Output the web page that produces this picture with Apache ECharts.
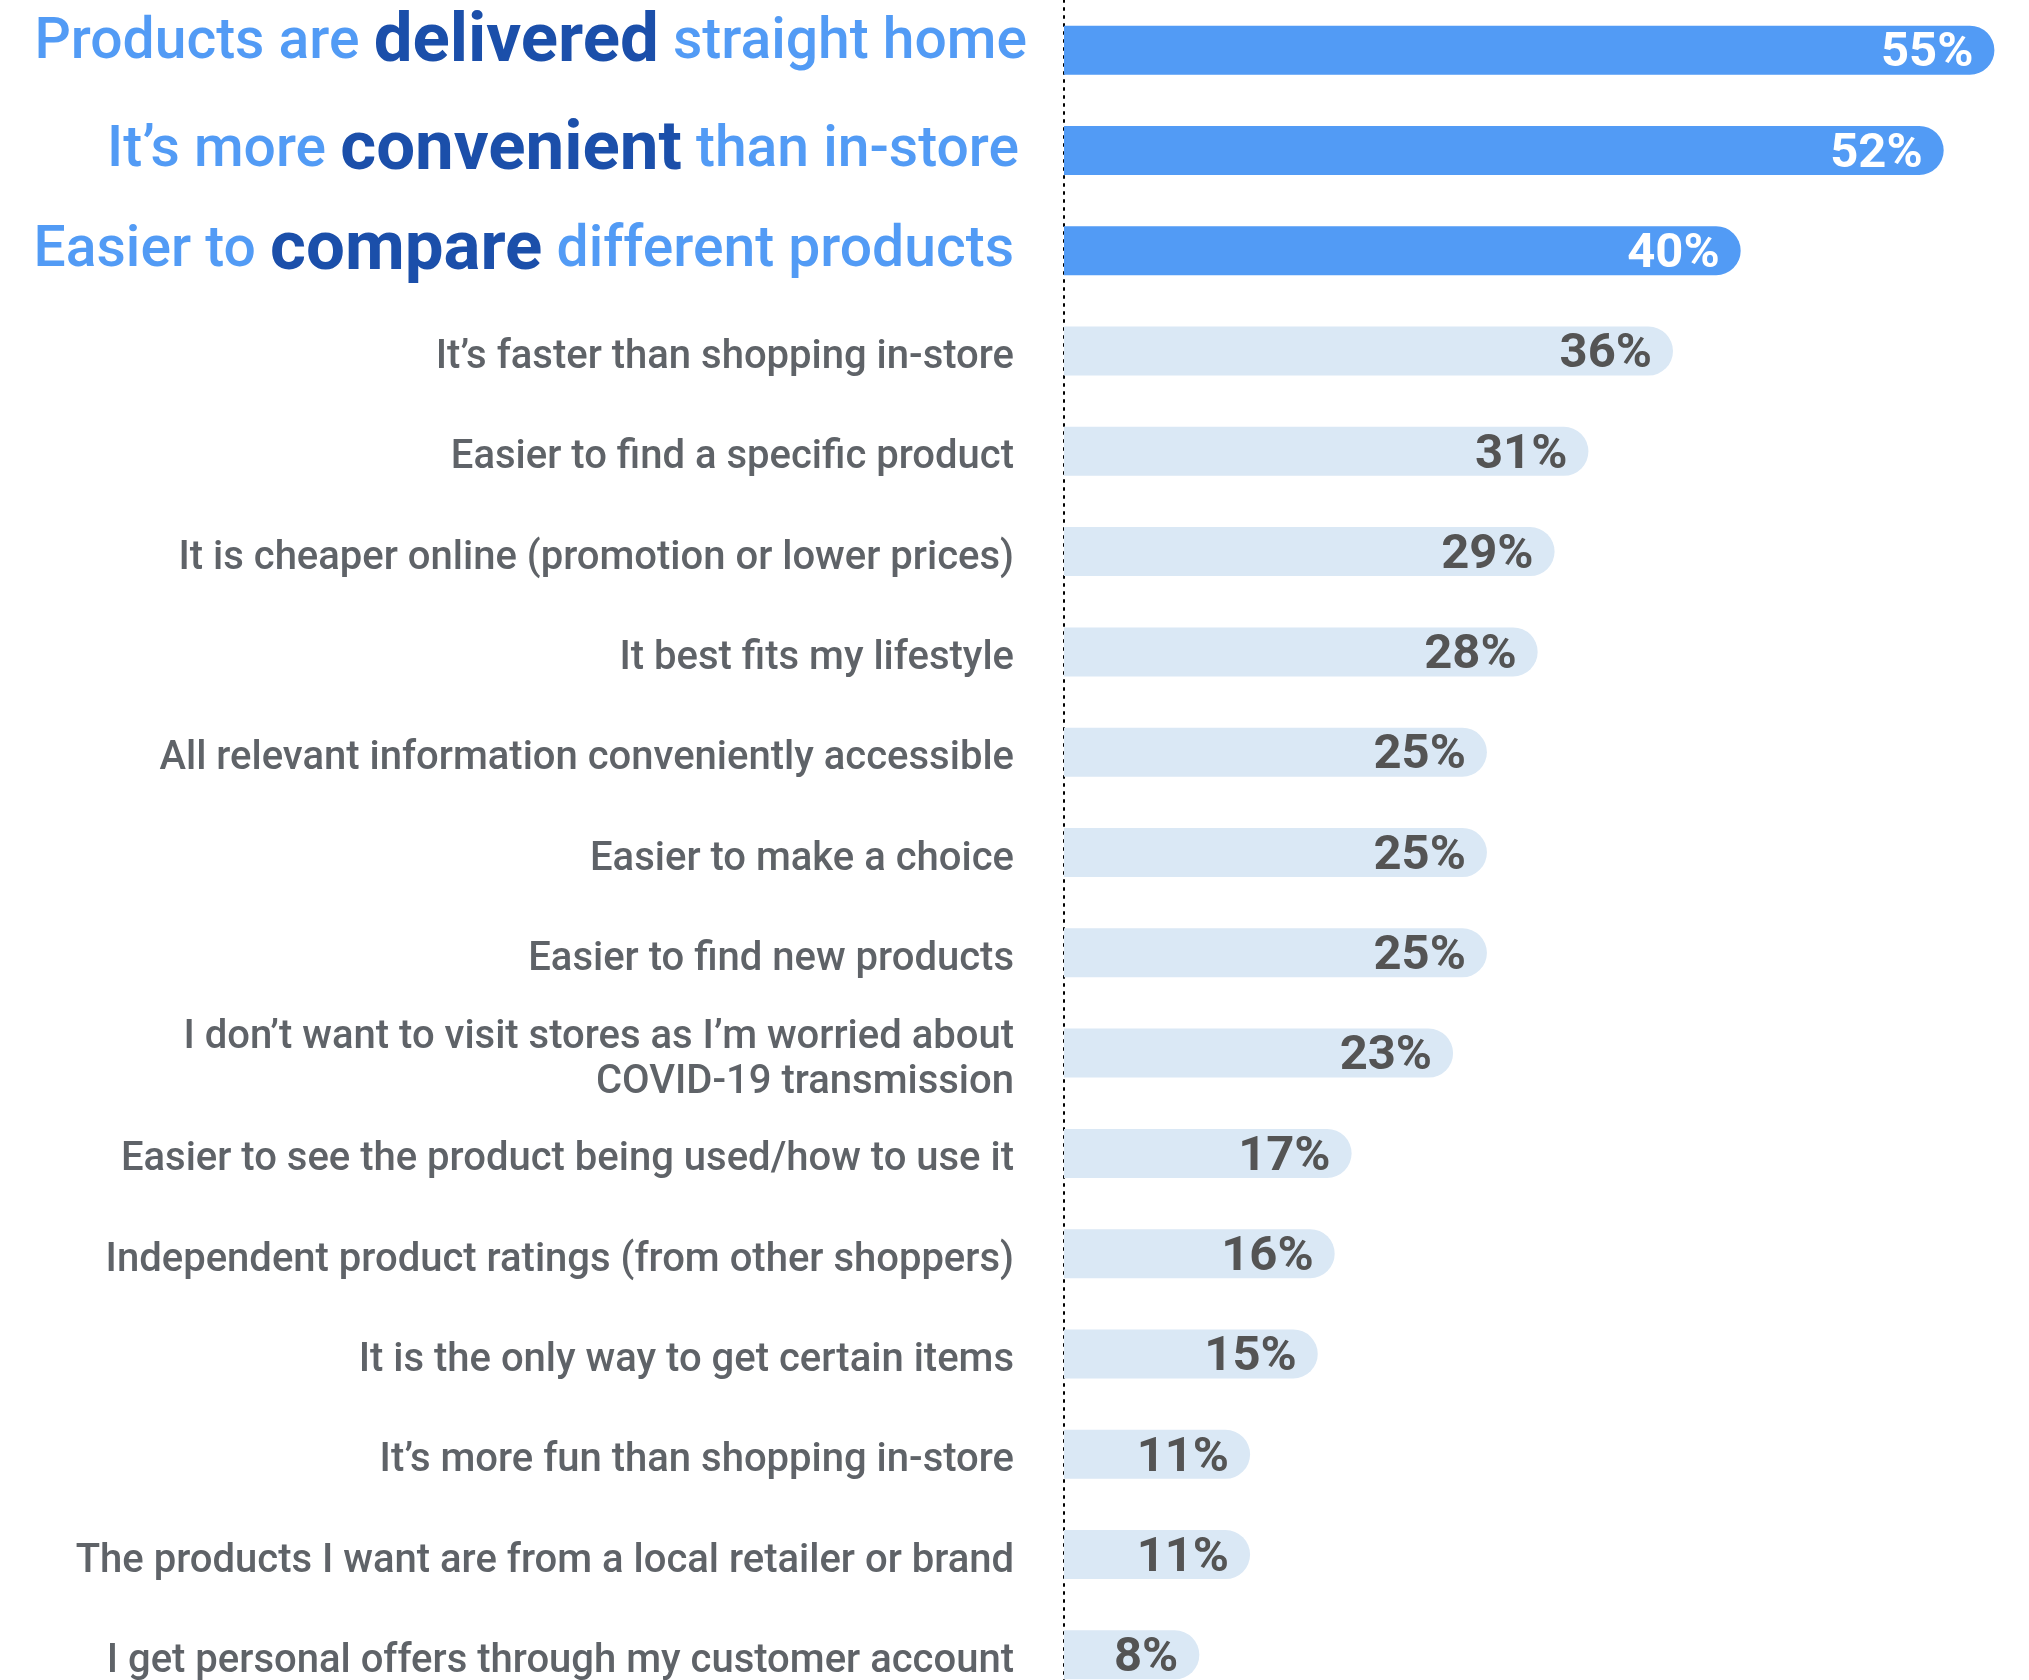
<!DOCTYPE html>
<html>
<head>
<meta charset="utf-8">
<script src="https://cdn.jsdelivr.net/npm/echarts@6/dist/echarts.min.js"></script>
<style>
html,body{margin:0;padding:0;background:#fff;}
#chart{width:2029px;height:1680px;}
</style>
</head>
<body>
<div id="chart"></div>
<script>
const categories = [
  "Products are delivered straight home",
  "It\u2019s more convenient than in-store",
  "Easier to compare different products",
  "It\u2019s faster than shopping in-store",
  "Easier to find a specific product",
  "It is cheaper online (promotion or lower prices)",
  "It best fits my lifestyle",
  "All relevant information conveniently accessible",
  "Easier to make a choice",
  "Easier to find new products",
  "I don\u2019t want to visit stores as I\u2019m worried about\nCOVID-19 transmission",
  "Easier to see the product being used/how to use it",
  "Independent product ratings (from other shoppers)",
  "It is the only way to get certain items",
  "It\u2019s more fun than shopping in-store",
  "The products I want are from a local retailer or brand",
  "I get personal offers through my customer account"
];
const emphasisWords = ["delivered", "convenient", "compare"];
const values = [55, 52, 40, 36, 31, 29, 28, 25, 25, 25, 23, 17, 16, 15, 11, 11, 8];
const highlightCount = 3;

const chart = echarts.init(document.getElementById('chart'));
const FONT = 'Roboto';

const data = values.map((v, i) => ({
  value: v,
  itemStyle: { color: i < highlightCount ? '#529BF5' : '#DAE8F5' },
  label: { color: i < highlightCount ? '#FFFFFF' : '#545454' }
}));

const headPad = [26, 11, 12];
const headShift = [13, 5, 0];
const rich = {};
headPad.forEach((p, i) => {
  rich['l' + i] = { fontFamily: FONT, fontWeight: 500, fontSize: 57, color: '#529BF5', lineHeight: 76, padding: [0, 0, p, 0] };
  rich['r' + i] = { fontFamily: FONT, fontWeight: 500, fontSize: 57, color: '#529BF5', lineHeight: 76, padding: [0, -headShift[i], p, 0] };
  rich['b' + i] = { fontFamily: FONT, fontWeight: 700, fontSize: 69, color: '#1B4FAA', lineHeight: 76, padding: [0, 0, p, 0] };
});

chart.setOption({
  animation: false,
  grid: { left: 1064, top: 0, width: 1015, height: 1705, containLabel: false, outerBoundsMode: 'none' },
  xAxis: { type: 'value', min: 0, max: 60, show: false },
  yAxis: {
    type: 'category',
    data: categories,
    inverse: true,
    axisTick: { show: false },
    axisLine: { show: true, lineStyle: { color: '#000', width: 2, type: [2, 6] } },
    axisLabel: {
      margin: 50,
      fontFamily: FONT,
      fontWeight: 500,
      fontSize: 40,
      color: '#5F6368',
      lineHeight: 45,
      padding: [14, 0, 0, 0],
      align: 'right',
      formatter: function (val, idx) {
        if (idx < highlightCount) {
          const w = emphasisWords[idx];
          const p = val.indexOf(w);
          const pre = val.slice(0, p);
          const post = val.slice(p + w.length);
          return '{l' + idx + '|' + pre + '}{b' + idx + '|' + w + '}{r' + idx + '|' + post + '}';
        }
        return val;
      },
      rich: rich
    }
  },
  series: [{
    type: 'bar',
    data: data,
    barWidth: 49,
    itemStyle: { borderRadius: [0, 25, 25, 0] },
    label: {
      show: true,
      position: 'insideRight',
      distance: 21,
      offset: [0, 4],
      formatter: '{c}%',
      fontFamily: FONT,
      fontWeight: 700,
      fontSize: 49
    }
  }]
});
</script>
</body>
</html>
